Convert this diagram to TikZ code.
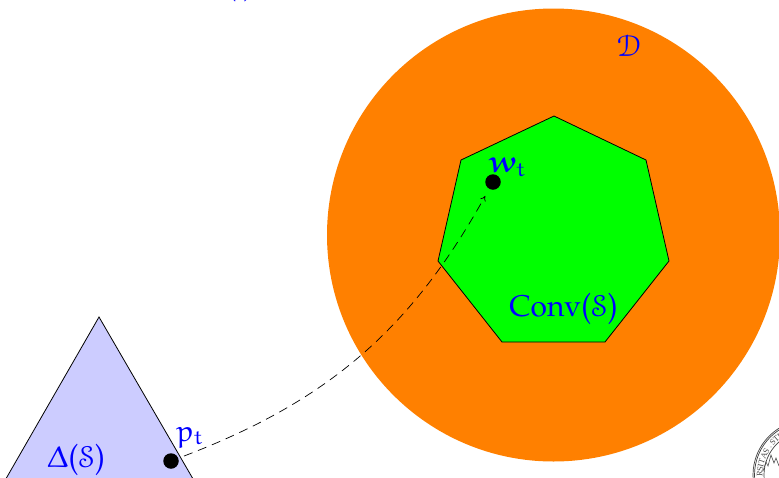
\documentclass[tikz,border=0pt]{standalone}
\usepackage{amsmath}
\usepackage{graphicx}
\usetikzlibrary{arrows.meta,decorations.text}
\definecolor{orangefill}{RGB}{255,128,0}
\definecolor{simplexfill}{RGB}{204,204,255}
\newcommand{\pal}{\fontencoding{T1}\fontfamily{ppl}\fontseries{m}\fontshape{n}\selectfont}
\newcommand{\eur}[1]{{\usefont{U}{eur}{m}{n}#1}}
\newcommand{\eurb}[1]{{\usefont{U}{eur}{b}{n}#1}}
\newcommand{\eus}[1]{{\usefont{U}{eus}{m}{n}#1}}
\newcommand{\subt}{\raisebox{-3.5pt}{\fontsize{21}{23}\selectfont\eur{t}}}
\newcommand{\lp}{\raisebox{-1.5pt}{\scalebox{1}[1.12]{(}}}
\newcommand{\rp}{\raisebox{-1.5pt}{\scalebox{1}[1.12]{)}}}
\tikzset{
  px/.style={x=1pt,y=-1pt},
  lab/.style={text=blue,inner sep=0pt,font=\fontsize{30}{33}\pal},
  dotnode/.style={circle,fill=black,minimum size=15.5pt,inner sep=0pt},
  sealink/.style={draw=black!75,line width=0.7pt}
}
\begin{document}
\begin{tikzpicture}[px]
\useasboundingbox (0,0) rectangle (779,477);
\begin{scope}
\clip (0,0) rectangle (779,477);
\fill[orangefill] (553.5,235) circle[radius=226.5];
\draw[fill=green,line width=0.8pt] (554,116) -- (646,160) -- (669,261) -- (605,342) -- (502,342) -- (438,261) -- (461,160) -- cycle;
\draw[fill=simplexfill,line width=0.8pt] (99,317) -- (-8,503) -- (207,503) -- cycle;
\draw[sealink] (808,475) circle[radius=55];
\draw[sealink] (808,475) circle[radius=53.5];
\draw[sealink] (808,475) circle[radius=44];
\path[postaction={decorate},decoration={text along path,text align=left,
  text={|\fontsize{8}{9}\selectfont\pal\color{black!75}|RSITAS . STUDIO}}]
  (808,475) ++(178:45.5) arc[start angle=178,end angle=275,radius=45.5];
\draw[black!70,line width=0.6pt] (763,471) -- (766,462) -- (768,466) -- (771,455) -- (774,463) -- (776,458) -- (779,466);
\node[lab] (toptext) at (240,-12) {(\hspace{7pt})};
\end{scope}
\node[dotnode] (pt) at (171,461) {};
\node[dotnode] (wt) at (493,182) {};
\draw[line width=0.7pt,dash pattern=on 9pt off 6pt,-{To[length=5pt,width=6pt]},shorten >=8pt,shorten <=6pt] (pt) to[bend right=20] (wt);
\node[lab] (ptl) at (189.5,437) {\eur{p}\subt};
\node[lab] (wtl) at (507,167) {\eurb{w}\subt};
\node[lab] (conv) at (563.5,309) {Conv\lp\eus{S}\rp};
\node[lab] (dl) at (629,46) {\eus{D}};
\node[lab] (delta) at (76,460) {\eur{\char1}\lp\eus{S}\rp};
\end{tikzpicture}
\end{document}
